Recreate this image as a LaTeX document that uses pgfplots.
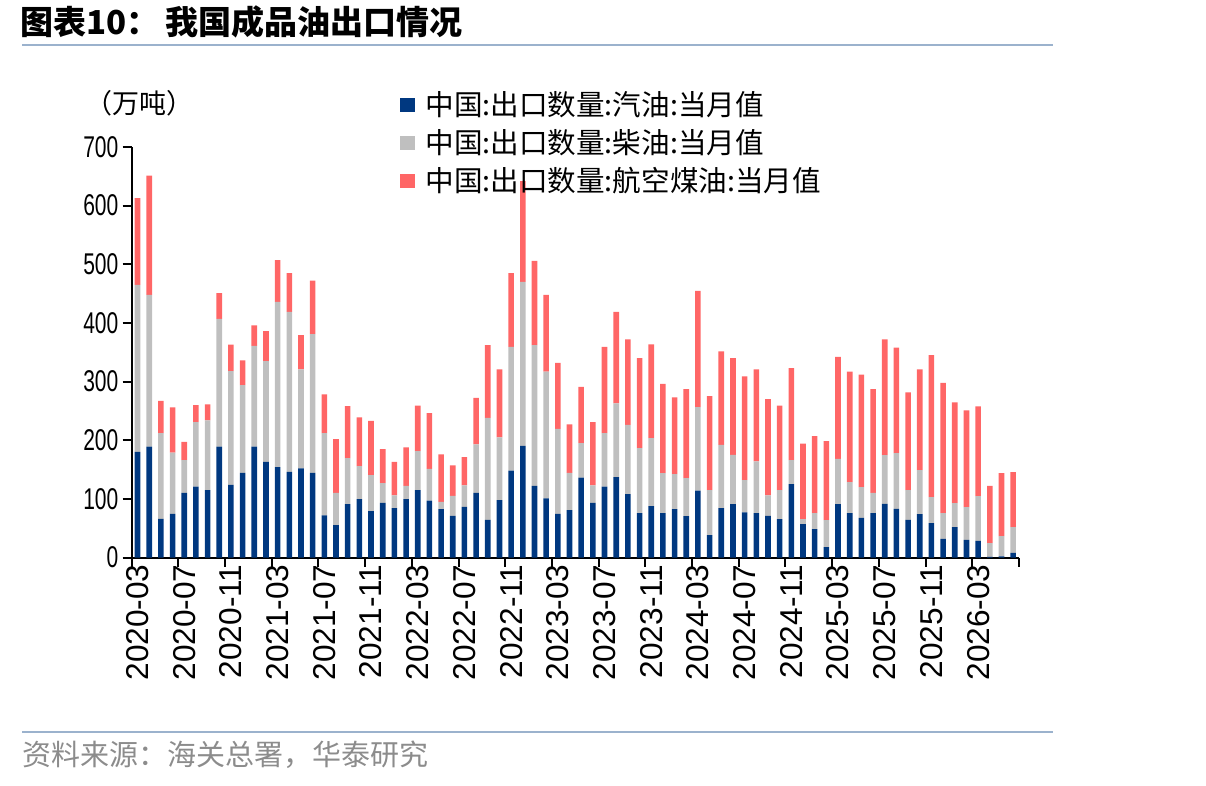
\documentclass[border=0pt]{standalone}
\usepackage{pgfplots}
\pgfplotsset{compat=1.18}
\usepackage{fontspec}
\setmainfont{Liberation Sans}
\newfontfamily\cjk{Noto Sans CJK SC}
\definecolor{navy}{RGB}{0,56,128}
\definecolor{lgray}{RGB}{191,191,191}
\definecolor{salmon}{RGB}{255,102,102}
\definecolor{rulec}{RGB}{155,178,205}
\definecolor{srcgray}{RGB}{140,140,140}
\begin{document}
\begin{tikzpicture}
\path[use as bounding box] (0,0) rectangle (603pt,-393pt);
\draw[rulec, line width=1.2pt] (11pt,-22.5pt) -- (526.5pt,-22.5pt);
\draw[rulec, line width=1.2pt] (11pt,-366pt) -- (526.5pt,-366pt);
\node[anchor=west, inner sep=0pt] at (10pt,-11pt) {\cjk\bfseries\fontsize{16.5}{18}\selectfont 图表10：\hspace{3pt}我国成品油出口情况};
\node[anchor=west, inner sep=0pt, text=srcgray] at (11pt,-377.5pt) {\cjk\fontsize{14.5}{16}\selectfont 资料来源：海关总署，华泰研究};
\node[anchor=west, inner sep=0pt] at (42.5pt,-51.5pt) {\cjk\fontsize{13.5}{15}\selectfont （万吨）};
\begin{axis}[
  at={(65.85pt,-278.75pt)}, anchor=south west,
  scale only axis, width=443.65pt, height=205.25pt,
  xmin=0.5, xmax=76.5, ymin=0, ymax=700, enlargelimits=false,
  axis lines*=left,
  axis line style={line width=1pt, -},
  tick align=outside, major tick length=4.5pt,
  tick style={black, line width=1pt},
  ytick={0,100,...,700},
  yticklabel={\scalebox{0.7}[1]{\pgfmathprintnumber{\tick}}},
  yticklabel style={font=\fontsize{15}{17}\selectfont, inner sep=2pt},
  xtick={0.5,4.5,...,76.5},
  xticklabels={},
  extra x ticks={1,5,...,73},
  extra x tick labels={2020-03,2020-07,2020-11,2021-03,2021-07,2021-11,2022-03,2022-07,2022-11,2023-03,2023-07,2023-11,2024-03,2024-07,2024-11,2025-03,2025-07,2025-11,2026-03},
  extra x tick style={major tick length=0pt, xticklabel style={rotate=90, anchor=east, font=\fontsize{15.8}{17}\selectfont}},
  /pgf/number format/assume math mode=true,
  ybar stacked, bar width=0.48,
  legend style={at={(0.3024,1.147)}, anchor=north west, draw=none, fill=none,
    font=\cjk\fontsize{14.3}{16}\selectfont, row sep=1.5pt, inner sep=0pt,
    nodes={inner xsep=5pt}},
  legend cell align=left,
  legend image code/.code={\fill[#1] (0pt,-3.5pt) rectangle (7.5pt,3.5pt);},
]
\addplot[fill=navy, draw=none] coordinates {
(1,180)(2,189)(3,66)(4,74.5)(5,110)(6,121)(7,115)(8,189)(9,124)(10,144.5)
(11,189)(12,163)(13,154)(14,146)(15,152)(16,144.5)(17,72)(18,55)(19,91)(20,99.5)
(21,79)(22,93)(23,84)(24,99.5)(25,115)(26,97)(27,82.5)(28,71)(29,86.5)(30,110)
(31,64)(32,98)(33,148)(34,190.5)(35,122)(36,101)(37,74.5)(38,81)(39,136)(40,93)
(41,121)(42,137)(43,108)(44,75.6)(45,87.6)(46,75.6)(47,82.5)(48,70.5)(49,114)(50,38)
(51,84)(52,91)(53,77)(54,75.6)(55,71)(56,65.4)(57,125)(58,57)(59,48.4)(60,17.6)
(61,91)(62,75.6)(63,67.7)(64,75.6)(65,91.6)(66,83)(67,64.3)(68,74)(69,58.6)(70,31.9)
(71,51.8)(72,30)(73,28.4)(74,1)(75,2)(76,8)};
\addlegendentry{中国:出口数量:汽油:当月值}
\addplot[fill=lgray, draw=none] coordinates {
(1,285)(2,259)(3,146)(4,104.5)(5,56)(6,110)(7,119)(8,218)(9,194)(10,149.5)
(11,172)(12,172)(13,282)(14,273)(15,169)(16,236.5)(17,140)(18,55)(19,78.5)(20,56.5)
(21,61.5)(22,34)(23,22)(24,22.5)(25,66.5)(26,54)(27,12.5)(28,34)(29,36.5)(30,83)
(31,174)(32,107)(33,211)(34,279.5)(35,240)(36,216)(37,145)(38,63.5)(39,59)(40,30)
(41,91)(42,126)(43,118)(44,111)(45,116)(46,68.4)(47,59.5)(48,65)(49,142.5)(50,77)
(51,108)(52,84)(53,55)(54,88.4)(55,35)(56,49.6)(57,41)(58,8.4)(59,27.2)(60,46.1)
(61,77)(62,53)(63,52.3)(64,34.4)(65,83)(66,95)(67,50.7)(68,75)(69,44.4)(70,43.7)
(71,40.9)(72,56)(73,76.3)(74,23.5)(75,34.4)(76,43.8)};
\addlegendentry{中国:出口数量:柴油:当月值}
\addplot[fill=salmon, draw=none] coordinates {
(1,148)(2,203)(3,55)(4,77)(5,31)(6,29)(7,27)(8,44)(9,45)(10,42)
(11,35)(12,51)(13,71)(14,66)(15,58)(16,91)(17,66)(18,92)(19,88.5)(20,83)
(21,92.5)(22,58)(23,57)(24,66)(25,77.5)(26,95)(27,81)(28,52)(29,48)(30,79)
(31,124)(32,116)(33,126)(34,172)(35,144)(36,131)(37,112.5)(38,82.5)(39,96)(40,108)
(41,147)(42,156)(43,146)(44,153.4)(45,160)(46,152)(47,131)(48,151.5)(49,198)(50,160)
(51,159.5)(52,165)(53,177)(54,157)(55,164)(56,144)(57,157)(58,129)(59,131.4)(60,134.8)
(61,174)(62,188.4)(63,192)(64,177)(65,197.4)(66,180)(67,166.6)(68,172)(69,242)(70,222)
(71,171.8)(72,165)(73,153)(74,97.5)(75,107.6)(76,93.8)};
\addlegendentry{中国:出口数量:航空煤油:当月值}
\end{axis}
\end{tikzpicture}
\end{document}
